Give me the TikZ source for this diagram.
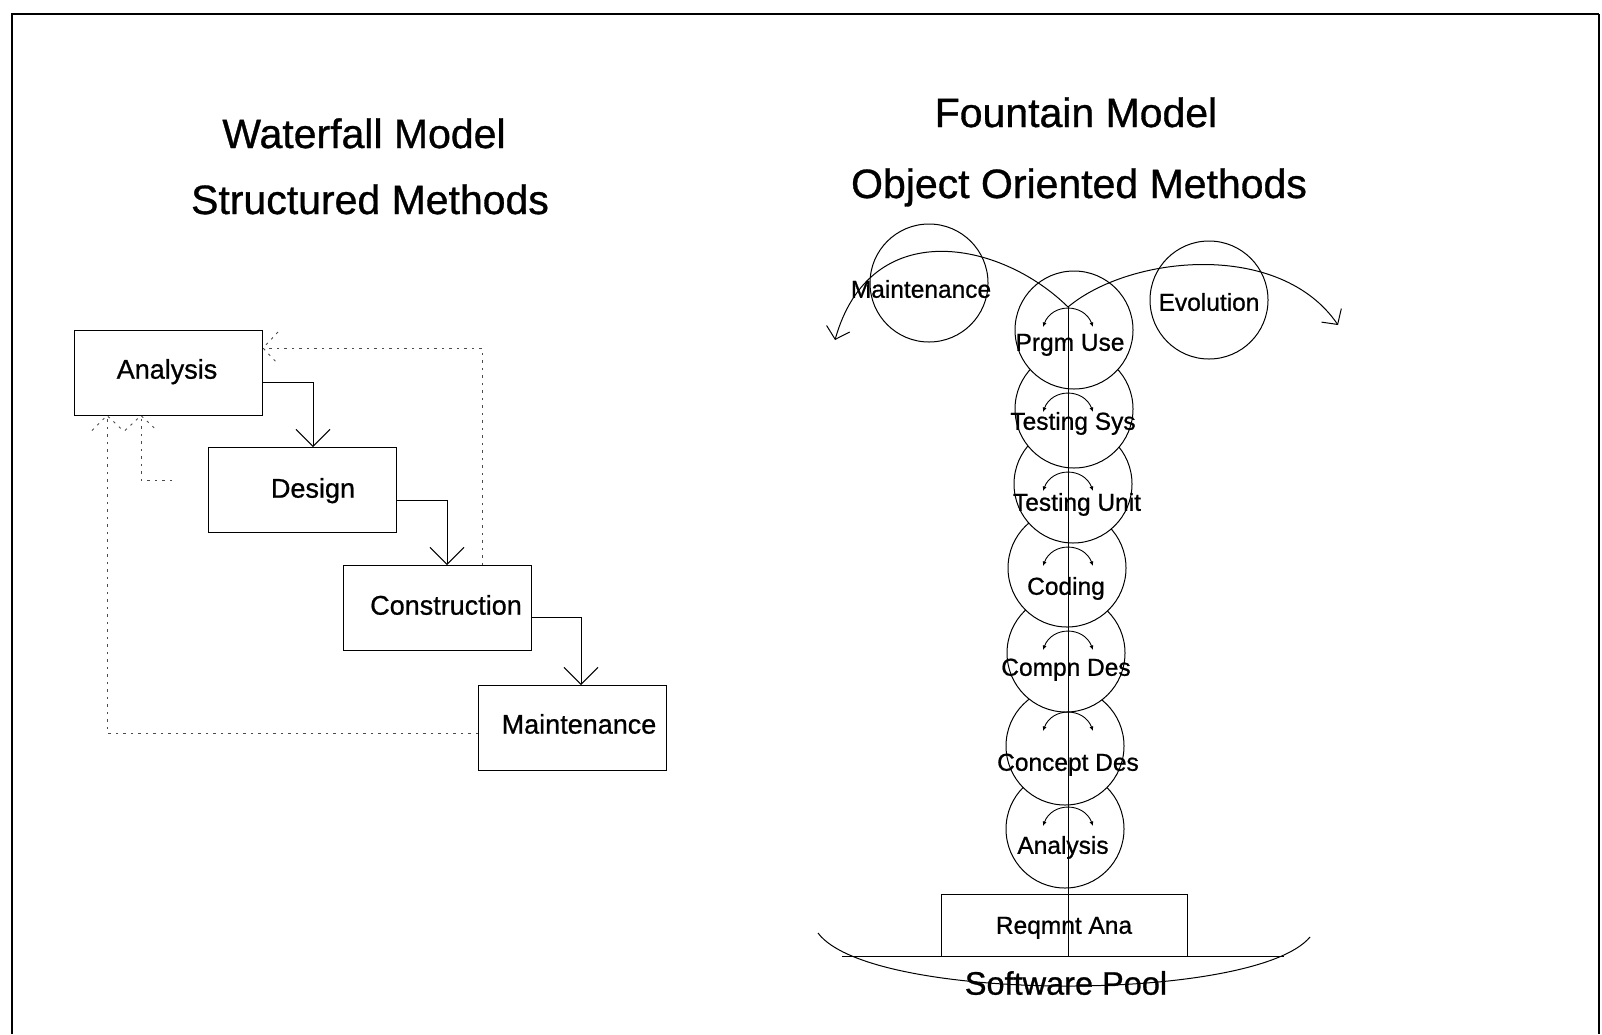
\documentclass[tikz,border=0pt]{standalone}
\usepackage{fontspec}
\setmainfont{Liberation Sans}[FakeBold=0.8]
\usetikzlibrary{arrows.meta,calc}

\begin{document}
\begin{tikzpicture}[x=1pt,y=-1pt,
  title/.style={font=\fontsize{41}{48}\selectfont, anchor=base, inner sep=0pt},
  wfbox/.style={draw, line width=1pt, minimum width=188pt, minimum height=85pt, inner sep=0pt},
  wflbl/.style={font=\fontsize{27}{32}\selectfont, text height=19.3pt, text depth=0pt, inner sep=0pt},
  ring/.style={draw, fill=white, circle, line width=1pt, minimum size=118pt, inner sep=0pt},
  clbl/.style={font=\fontsize{24.5}{29}\selectfont, text height=17.5pt, text depth=0pt, inner sep=0pt},
  flow/.style={line width=1pt, -{Straight Barb[length=17pt,width=34pt,line width=1pt]}},
  fb/.style={line width=0.9pt, black!70, dash pattern=on 2.5pt off 5pt},
  fan/.style={line width=1pt, -{Straight Barb[length=11pt,width=24pt,line width=1pt]}},
  swing/.style={line width=0.9pt, {Latex[length=4.5pt,width=4pt]}-{Latex[length=4.5pt,width=4pt]}}
]
\useasboundingbox (0,0) rectangle (1602,1034);

% frame (open at the bottom)
\draw[line width=2pt] (12,1034) -- (12,14) -- (1599,14);
\draw[line width=1.2pt] (1599,14) -- (1599,1034);

% ---------------- waterfall side ----------------
\node[title] (wt1) at (364,148) {Waterfall Model};
\node[title] (wt2) at (370,214) {Structured Methods};

\node[wfbox] (an) at (168.5,372.5) {};
\node[wfbox] (de) at (302.5,490) {};
\node[wfbox] (co) at (437.5,608) {};
\node[wfbox] (ma) at (572.5,728) {};
\node[wflbl] (anl) at (167,369) {Analysis};
\node[wflbl] (del) at (313,488) {Design};
\node[wflbl] (col) at (446,605) {Construction};
\node[wflbl] (mal) at (579,724) {Maintenance};

\draw[flow] (an.east |- 0,382) -| (313,0 |- de.north);
\draw[flow] (de.east |- 0,500) -| (447,0 |- co.north);
\draw[flow] (co.east |- 0,617) -| (581,0 |- ma.north);

% feedback paths
\coordinate (fbtipA) at (an.east |- 0,348);
\coordinate (fbtipB) at (107,0 |- an.south);
\coordinate (fbtipC) at (141,0 |- an.south);
\coordinate (fbend) at (172,480);
\draw[fb] (482,0 |- co.north) |- (fbtipA);
\draw[fb] (ma.west |- 0,733) -| (fbtipB);
\draw[fb] (fbend) -| (fbtipC);
\draw[fb] ($(fbtipA)+(15,-16)$) -- (fbtipA) -- ++(15,16);
\draw[fb] ($(fbtipB)+(-15,15)$) -- (fbtipB) -- ++(16,15);
\draw[fb] ($(fbtipC)+(-16,15)$) -- (fbtipC) -- ++(16,15);

% ---------------- fountain side ----------------
\node[title] (ft1) at (1076,127) {Fountain Model};
\node[title] (ft2) at (1079,198) {Object Oriented Methods};

\node[ring] (mt) at (929,283) {};
\node[ring] (ev) at (1209,300) {};
% column, drawn bottom-up so each circle covers the top of the one below
\node[ring] (ay) at (1065,829) {};
\node[ring] (cc) at (1065,746) {};
\node[ring] (cp) at (1066,653) {};
\node[ring] (cd) at (1067,568) {};
\node[ring] (tu) at (1073,484) {};
\node[ring] (ts) at (1074,409) {};
\node[ring] (pu) at (1074,330) {};

\node[draw, line width=1pt, minimum width=246pt, minimum height=62pt, inner sep=0pt,
      font=\fontsize{24.5}{29}\selectfont, text height=17.5pt, text depth=0pt] (rq) at (1064,925) {Reqmnt Ana};

% software pool
\coordinate (pl) at (818,933);
\coordinate (pr) at (1310,937);
\coordinate (cl) at (842,956);
\coordinate (cr) at (1284,956);
\draw[line width=1pt] (pl) .. controls (870,1003) and (1255,1003) .. (pr);
\draw[line width=1pt] (cl) -- (cr);
\node[font=\fontsize{32.5}{38}\selectfont, text height=23.3pt, text depth=0pt, inner sep=0pt] (sp) at (1066,983) {Software Pool};

% trunk and the two spouts
\coordinate (fork) at (1068,307);
\coordinate (lend) at (835,340);
\coordinate (rend) at (1338,325);
\draw[line width=1pt] (fork) -- (fork |- rq.south);
\draw[fan] (fork) .. controls (1000,240) and (870,215) .. (lend);
\draw[fan] (fork) .. controls (1130,255) and (1280,240) .. (rend);

% small two-way arcs inside the column
\foreach \t in {309,394,473,548,632,713,808}
  \draw[swing] (1043,\t+18) .. controls (1052,\t-6) and (1084,\t-6) .. (1093,\t+18);

\node[clbl] (mtl) at (921,289) {Maintenance};
\node[clbl] (evl) at (1209,302) {Evolution};
\node[clbl] (pul) at (1070,342) {Prgm Use};
\node[clbl] (tsl) at (1073,421) {Testing Sys};
\node[clbl] (tul) at (1077,502) {Testing Unit};
\node[clbl] (cdl) at (1066,586) {Coding};
\node[clbl] (cpl) at (1066,667) {Compn Des};
\node[clbl] (ccl) at (1068,762) {Concept Des};
\node[clbl] (ayl) at (1063,845) {Analysis};
\end{tikzpicture}
\end{document}
